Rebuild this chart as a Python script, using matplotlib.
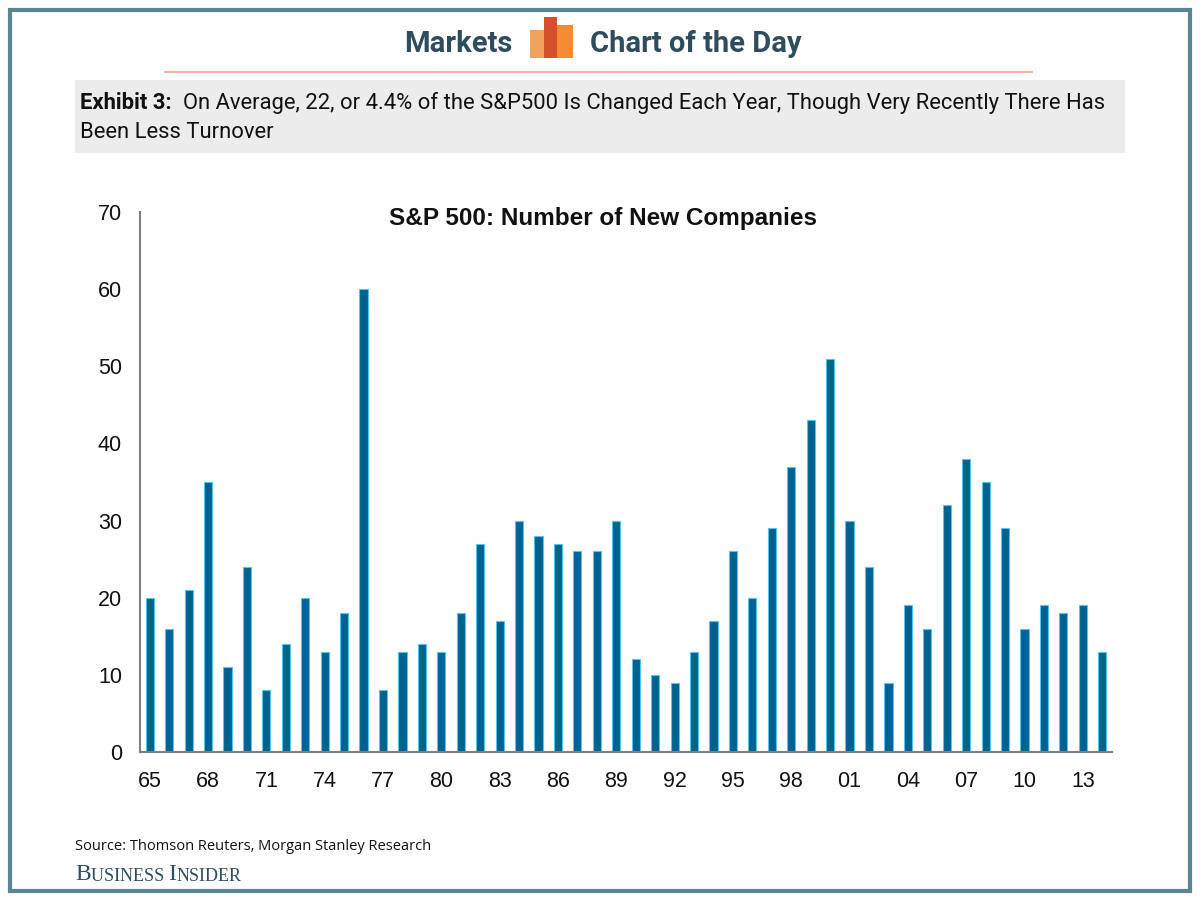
import matplotlib.pyplot as plt
from matplotlib.patches import Rectangle

# data: S&P 500 new companies per year, 1965-2014
years = list(range(1965, 2015))
new_companies = [20, 16, 21, 35, 11, 24, 8, 14, 20, 13,
                 18, 60, 8, 13, 14, 13, 18, 27, 17, 30,
                 28, 27, 26, 26, 30, 12, 10, 9, 13, 17,
                 26, 20, 29, 37, 43, 51, 30, 24, 9, 19,
                 16, 32, 38, 35, 29, 16, 19, 18, 19, 13]
tick_labels = ["%02d" % (y % 100) for y in years[::3]]
y_ticks = [0, 10, 20, 30, 40, 50, 60, 70]

header_color = "#2e4d5c"
bar_color = "#00628f"
edge_color = "#55c3f0"
narrow = ["Roboto"]

fig = plt.figure(figsize=(12, 9), dpi=100)
W, H = 1200, 900

# outer frame
fig.patches.append(Rectangle((10 / W, 9 / H), 1180 / W, 881 / H, transform=fig.transFigure,
                             fill=False, edgecolor="#5b8595", linewidth=3))

# header
fig.text(512 / W, 1 - 44 / H, "Markets", ha="right", va="center", fontsize=21,
         fontweight="bold", color=header_color, family="Roboto")
fig.text(590 / W, 1 - 44 / H, "Chart of the Day", ha="left", va="center", fontsize=21,
         fontweight="bold", color=header_color, family="Roboto")
# little logo
fig.patches.append(Rectangle((530 / W, 1 - 58 / H), 22 / W, 28 / H, transform=fig.transFigure,
                             facecolor="#f0a25c", edgecolor="none"))
fig.patches.append(Rectangle((557 / W, 1 - 58 / H), 16 / W, 33 / H, transform=fig.transFigure,
                             facecolor="#f28b32", edgecolor="none"))
fig.patches.append(Rectangle((544 / W, 1 - 58 / H), 13 / W, 41 / H, transform=fig.transFigure,
                             facecolor="#d4502a", edgecolor="none"))
fig.add_artist(plt.Line2D([165 / W, 1032 / W], [1 - 72 / H, 1 - 72 / H], color="#f0a08a", linewidth=1.2))

# exhibit box
fig.patches.append(Rectangle((75 / W, 1 - 153 / H), 1050 / W, 73 / H, transform=fig.transFigure,
                             facecolor="#ececec", edgecolor="none"))
t1 = fig.text(80 / W, 1 - 103 / H, "Exhibit 3:", ha="left", va="center", fontsize=15.8,
              fontweight="bold", color="#111111", family=narrow)
fig.add_artist(plt.Annotation(
    "  On Average, 22, or 4.4% of the S&P500 Is Changed Each Year, Though Very Recently There Has",
    xy=(1, 0.5), xycoords=t1, ha="left", va="center", fontsize=15.8, color="#111111",
    family=narrow, annotation_clip=False))
fig.text(80 / W, 1 - 132 / H, "Been Less Turnover", ha="left", va="center", fontsize=15.8,
         color="#111111", family=narrow)

# chart
ax = fig.add_axes([140 / W, 1 - 752 / H, 972 / W, 540 / H])
x = list(range(len(years)))
ax.bar(x, new_companies, width=0.42, color=bar_color, edgecolor=edge_color, linewidth=0.8)
ax.set_xlim(-0.5, len(years) - 0.5)
ax.set_ylim(0, 70)
ax.set_yticks(y_ticks)
ax.set_yticklabels([str(v) for v in y_ticks])
ax.set_xticks(x[::3])
ax.set_xticklabels(tick_labels)
ax.tick_params(length=0, labelsize=15.5, labelcolor="#111111", labelfontfamily="Liberation Sans")
ax.tick_params(axis="y", pad=13)
ax.tick_params(axis="x", pad=14)
for side in ["top", "right"]:
    ax.spines[side].set_visible(False)
for side in ["left", "bottom"]:
    ax.spines[side].set_color("#7f7f7f")
    ax.spines[side].set_linewidth(1.5)
ax.text(0.476, 0.988, "S&P 500: Number of New Companies", transform=ax.transAxes, ha="center",
        va="center", fontsize=17.5, fontweight="bold", family="Liberation Sans", color="#111111")

# footer
fig.text(75 / W, 1 - 846 / H, "Source: Thomson Reuters, Morgan Stanley Research", ha="left",
         va="center", fontsize=10.5, color="#111111", family="Open Sans")
b1 = fig.text(75 / W, 1 - 880 / H, "B", ha="left", va="baseline", fontsize=17,
              color=header_color, family="Liberation Serif")
b2 = plt.Annotation("USINESS ", xy=(1, 0), xycoords=b1, ha="left", va="bottom", fontsize=13,
                    color=header_color, family="Liberation Serif", annotation_clip=False)
fig.add_artist(b2)
b3 = plt.Annotation("I", xy=(1, 0), xycoords=b2, ha="left", va="bottom", fontsize=17,
                    color=header_color, family="Liberation Serif", annotation_clip=False)
fig.add_artist(b3)
fig.add_artist(plt.Annotation("NSIDER", xy=(1, 0), xycoords=b3, ha="left", va="bottom", fontsize=13,
                              color=header_color, family="Liberation Serif", annotation_clip=False))

fig.savefig("out.png", dpi=100)
